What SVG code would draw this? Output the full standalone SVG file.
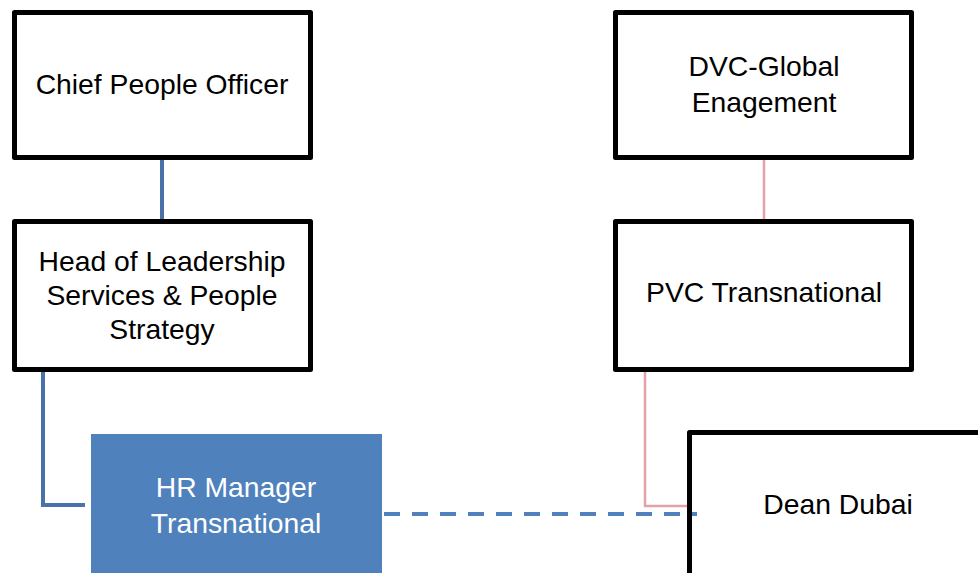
<svg xmlns="http://www.w3.org/2000/svg" width="978" height="573" viewBox="0 0 978 573">
  <style>
    .box { fill: #ffffff; stroke: #000000; stroke-width: 5; stroke-linejoin: round; }
    .hr { fill: #4f81bd; stroke: none; }
    .label { font-family: "Liberation Sans", Arial, sans-serif; font-size: 28.3px; fill: #000000; text-anchor: middle; }
    .label-w { fill: #ffffff; }
    .line-blue { fill: none; stroke: #4a72a8; stroke-width: 4; }
    .line-pink { fill: none; stroke: #e4a2a8; stroke-width: 2.5; }
    .line-dash { fill: none; stroke: #4f81bd; stroke-width: 4; stroke-dasharray: 16 12; }
  </style>
  <rect width="978" height="573" fill="#ffffff"/>

  <g id="chief-people-officer">
    <rect class="box" x="14.5" y="12.5" width="296" height="145"/>
    <text class="label" x="162" y="94">Chief People Officer</text>
  </g>

  <g id="head-leadership">
    <rect class="box" x="14.5" y="221.5" width="296" height="148"/>
    <text class="label" x="162" y="271">Head of Leadership</text>
    <text class="label" x="162" y="305">Services &amp; People</text>
    <text class="label" x="162" y="339">Strategy</text>
  </g>

  <g id="hr-manager">
    <rect class="hr" x="91" y="434" width="291" height="150"/>
    <text class="label label-w" x="236" y="497">HR Manager</text>
    <text class="label label-w" x="236" y="533">Transnational</text>
  </g>

  <g id="dvc-global">
    <rect class="box" x="615.5" y="12.5" width="296" height="145"/>
    <text class="label" x="764" y="76">DVC-Global</text>
    <text class="label" x="764" y="112">Enagement</text>
  </g>

  <g id="pvc-transnational">
    <rect class="box" x="615.5" y="221.5" width="296" height="148"/>
    <text class="label" x="764" y="302">PVC Transnational</text>
  </g>

  <g id="dean-dubai">
    <rect class="box" x="689.5" y="432.5" width="310" height="160"/>
    <text class="label" x="838" y="514">Dean Dubai</text>
  </g>

  <!-- connectors drawn last so the dotted link crosses the Dean Dubai border -->
  <g id="connectors">
    <line class="line-blue" x1="162" y1="160" x2="162" y2="219"/>
    <polyline class="line-blue" points="43,372 43,505 85,505"/>
    <line class="line-pink" x1="764" y1="160" x2="764" y2="219"/>
    <polyline class="line-pink" points="645,372 645,506 687,506"/>
    <line class="line-dash" x1="384" y1="514" x2="697" y2="514"/>
  </g>
</svg>
